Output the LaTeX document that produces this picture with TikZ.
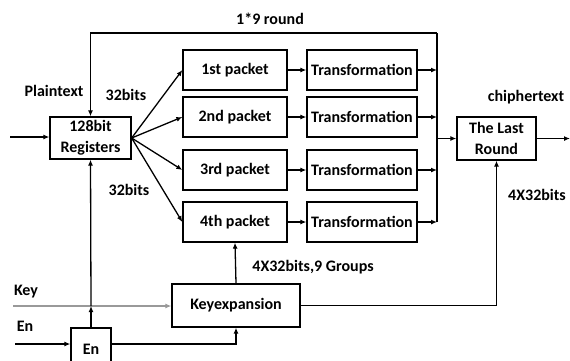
\documentclass[tikz,border=0pt]{standalone}
\usepackage{fontspec}
\setmainfont{Carlito}
\usetikzlibrary{positioning, arrows.meta, calc}
\tikzset{
  blk/.style   = {draw, line width=1.3pt, minimum height=40pt, align=center,
                  font=\fontsize{16}{21}\selectfont\bfseries, inner sep=1pt},
  pkt/.style   = {blk, minimum width=104pt},              % packet boxes
  trf/.style   = {blk, minimum width=110pt},              % transformation boxes
  arrow/.style = {-{Latex[length=6pt, width=5pt]}, line width=1.3pt},
  wire/.style  = {line width=1.3pt},
  lbl/.style   = {font=\fontsize{16}{18}\selectfont\bfseries, inner sep=0pt},
}

\begin{document}
\begin{tikzpicture}[x=1pt, y=-1pt]
  \useasboundingbox (0,0) rectangle (570,360);
  \clip (0,0) rectangle (570,360);

  \node[blk, minimum width=81pt, minimum height=42pt] at (90.5,138) (reg) {128bit\\Registers};

  \node[pkt] at (235, 70)  (pkt1) {1st packet};
  \node[pkt] at (235,117)  (pkt2) {2nd packet};
  \node[pkt] at (235,170)  (pkt3) {3rd packet};
  \node[pkt] at (235,222)  (pkt4) {4th packet};

  \node[trf] at (362, 70)  (trf1) {Transformation};
  \node[trf] at (362,117)  (trf2) {Transformation};
  \node[trf] at (362,170)  (trf3) {Transformation};
  \node[trf] at (362,222)  (trf4) {Transformation};

  \node[blk, minimum width=79pt, minimum height=43pt] at (496.5,138.5) (last) {The Last\\Round};
  \node[blk, minimum width=128pt, minimum height=43pt] at (236,305.5) (kex) {Keyexpansion};
  \node[blk, minimum width=40pt, minimum height=42pt] at (91,349) (en) {En};

  \coordinate (bus)   at (437, 33);
  \coordinate (ptin)  at (10, 137);
  \coordinate (ctout) at (570,138.5);
  \coordinate (keyin) at (13, 306);
  \coordinate (enin)  at (15, 344);

  % labels
  \node[lbl] at (270, 19) (lround) {1*9 round};
  \node[lbl] at (54, 91)  (lplain) {Plaintext};
  \node[lbl] at (126, 95) (lbitsa) {32bits};
  \node[lbl] at (129,190) (lbitsb) {32bits};
  \node[lbl] at (526, 97) (lciph)  {chiphertext};
  \node[lbl] at (313,267) (lgroup) {4X32bits,9 Groups};
  \node[lbl] at (537,195) (lfinal) {4X32bits};
  \node[lbl] at (26,292)  (lkey)   {Key};
  \node[lbl] at (25,326)  (len)    {En};

  % data path
  \draw[arrow] (ptin) -- (reg.west |- ptin);
  \foreach \i in {1,...,4} {
    \draw[arrow] (reg.east) -- (pkt\i.west);
    \draw[arrow] (pkt\i) -- (trf\i);
    \draw[arrow] (trf\i.east) -- (bus |- trf\i.east);
  }
  \draw[wire]  (bus) -- (bus |- trf4.east);
  \draw[arrow] (bus) -| (reg.north);
  \draw[arrow] (bus |- last.west) -- (last.west);
  \draw[arrow] (last.east) -- (ctout);

  % key schedule and enable
  \draw[arrow, gray!80] (keyin) -- (kex.west |- keyin);
  \draw[arrow] (enin) -- (en.west |- enin);
  \draw[arrow] (en.north) -- (en.north |- keyin);
  \draw[arrow] (en.north |- keyin) -- (reg.south);
  \draw[arrow] (en.east |- enin) -| (kex.south);
  \draw[arrow] (kex.north) -- (pkt4.south);
  \draw[arrow] (kex.east) -| (last.south);
\end{tikzpicture}
\end{document}
